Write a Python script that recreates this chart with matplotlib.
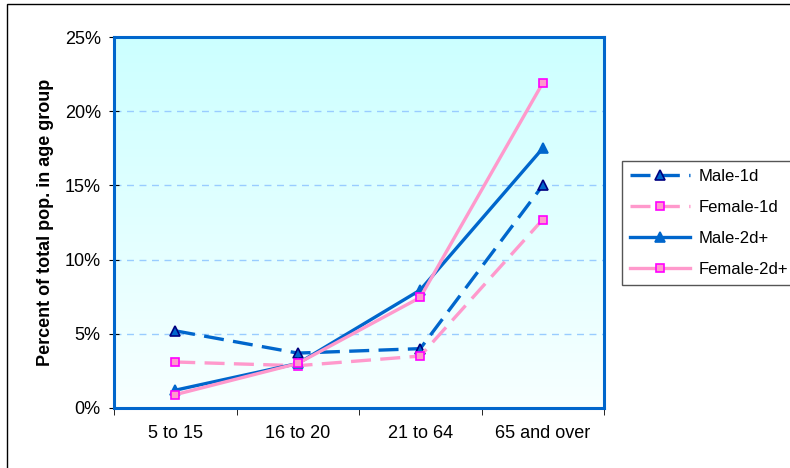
import matplotlib.pyplot as plt
import numpy as np
from matplotlib.patches import Rectangle

plt.rcParams['font.family'] = ['Liberation Sans', 'DejaVu Sans']

ageGroups = ['5 to 15', '16 to 20', '21 to 64', '65 and over']
male1d = [5.2, 3.7, 4.0, 15.0]
female1d = [3.1, 2.85, 3.5, 12.7]
male2d = [1.2, 3.0, 7.95, 17.5]
female2d = [0.9, 3.0, 7.45, 21.9]
yTicks = [0, 5, 10, 15, 20, 25]

blue = '#0066CC'
pink = '#FF99CC'

fig = plt.figure(figsize=(7.9, 4.68), dpi=100)
ax = fig.add_axes([114 / 790, 1 - 408 / 468, 490 / 790, 371 / 468])

# outer frame of the chart
fig.patches.append(Rectangle((7 / 790, -0.1), 1.2, 1 - 4 / 468 + 0.1, transform=fig.transFigure,
                             fill=False, edgecolor='black', linewidth=1))

# gradient background, cyan at the top to almost white at the bottom
top = np.array([0.80, 1.0, 1.0])
bottom = np.array([0.97, 1.0, 1.0])
t = np.linspace(0, 1, 256)[:, None]
grad = (top * (1 - t) + bottom * t)[:, None, :]
ax.imshow(grad, extent=[0, 1, 0, 1], transform=ax.transAxes, aspect='auto', zorder=0)

x = np.arange(len(ageGroups))
dash = (6, 2.8)
ax.plot(x, male1d, color=blue, lw=2.4, dashes=dash, marker='^', ms=7.5,
        mfc=blue, mec='#000080', mew=1.2, label='Male-1d', zorder=3)
ax.plot(x, female1d, color=pink, lw=2.4, dashes=dash, marker='s', ms=6,
        mfc=pink, mec='#FF00FF', mew=1.2, label='Female-1d', zorder=3)
ax.plot(x, male2d, color=blue, lw=2.4, marker='^', ms=7.5,
        mfc=blue, mec=blue, mew=1.2, label='Male-2d+', zorder=3)
ax.plot(x, female2d, color=pink, lw=2.4, marker='s', ms=6,
        mfc=pink, mec='#FF00FF', mew=1.2, label='Female-2d+', zorder=3)

ax.set_xlim(-0.5, len(ageGroups) - 0.5)
ax.set_ylim(0, 25)
ax.set_xticks(x)
ax.set_xticklabels(ageGroups, fontsize=13)
ax.set_xticks(np.arange(-0.5, len(ageGroups), 1), minor=True)
ax.tick_params(axis='x', which='major', length=0, pad=12)
ax.tick_params(axis='x', which='minor', length=5, direction='out', color='black')
ax.set_yticks(yTicks)
ax.set_yticklabels([f'{v}%' for v in yTicks], fontsize=13)
ax.tick_params(axis='y', length=7, direction='inout', color='black', pad=6)

for v in yTicks[1:-1]:
    ax.axhline(v, color='#99CCFF', lw=1, dashes=(5, 4), zorder=1)

for s in ax.spines.values():
    s.set_color(blue)
    s.set_linewidth(2.2)

ax.set_ylabel('Percent of total pop. in age group', fontsize=13, fontweight='bold', labelpad=8)

leg = fig.legend(loc='upper left', bbox_to_anchor=(622 / 790, 1 - 161 / 468), fontsize=12,
                 handlelength=3.6, handletextpad=0.5, labelspacing=0.95, borderpad=0.5,
                 borderaxespad=0, fancybox=False, framealpha=1, edgecolor='#555555')
leg.get_frame().set_linewidth(1)

fig.savefig('out.png', dpi=100)
